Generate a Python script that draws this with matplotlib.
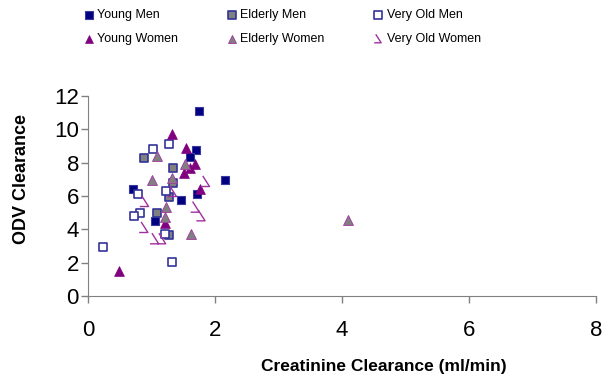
import matplotlib
matplotlib.use("Agg")
import matplotlib.pyplot as plt
from matplotlib.path import Path

plt.rcParams['font.family'] = ['Liberation Sans', 'DejaVu Sans']

# data
young_men_x = [1.75, 1.70, 1.61, 2.15, 1.71, 1.46, 0.71, 1.06]
young_men_y = [11.12, 8.76, 8.32, 6.96, 6.12, 5.76, 6.40, 4.48]

elderly_men_x = [0.88, 1.34, 1.34, 1.28, 1.09, 1.28]
elderly_men_y = [8.30, 7.68, 6.76, 5.96, 4.96, 3.66]

vold_men_x = [1.28, 1.03, 0.78, 1.23, 0.82, 0.73, 1.21, 0.23, 1.32]
vold_men_y = [9.12, 8.80, 6.14, 6.32, 5.00, 4.80, 3.72, 2.96, 2.06]

young_women_x = [1.33, 1.55, 1.69, 1.60, 1.51, 1.76, 1.22, 0.49]
young_women_y = [9.72, 8.90, 7.92, 7.66, 7.38, 6.42, 4.36, 1.50]

elderly_women_x = [1.09, 1.52, 1.00, 1.32, 1.23, 1.22, 1.62, 4.09]
elderly_women_y = [8.38, 7.94, 6.98, 7.06, 5.36, 4.76, 3.70, 4.56]

vold_women_x = [1.86, 0.90, 1.70, 1.79, 0.89, 1.06, 1.17, 1.34]
vold_women_y = [6.86, 5.66, 5.32, 4.80, 4.10, 3.42, 3.42, 6.26]

# odd little marker for the very old women
hook = Path([(-0.35, 0.6), (0.35, -0.5), (-0.55, -0.5)],
            [Path.MOVETO, Path.LINETO, Path.LINETO])

fig = plt.figure(figsize=(6.09, 3.81), dpi=100)
ax = fig.add_axes([0.1445, 0.2231, 0.8342, 0.5249])

h1 = ax.scatter(young_men_x, young_men_y, marker='s', s=40, c='#000080',
                edgecolors='#3a3aa0', linewidths=0.8, label='Young Men', zorder=3)
h2 = ax.scatter(elderly_men_x, elderly_men_y, marker='s', s=40, c='#808080',
                edgecolors='#333399', linewidths=1.2, label='Elderly Men', zorder=3)
h3 = ax.scatter(vold_men_x, vold_men_y, marker='s', s=40, c='white',
                edgecolors='#333399', linewidths=1.2, label='Very Old Men', zorder=3)
h4 = ax.scatter(young_women_x, young_women_y, marker='^', s=50, c='#800080',
                edgecolors='#800080', linewidths=0.5, label='Young Women', zorder=3)
h5 = ax.scatter(elderly_women_x, elderly_women_y, marker='^', s=50, c='#808080',
                edgecolors='#a040a0', linewidths=0.7, label='Elderly Women', zorder=3)
h6 = ax.scatter(vold_women_x, vold_women_y, marker=hook, s=70, facecolors='none',
                edgecolors='#a030a0', linewidths=1.0, label='Very Old Women', zorder=3)

ax.set_xlim(0, 8)
ax.set_ylim(0, 12)
ax.set_xticks([0, 2, 4, 6, 8])
ax.set_yticks([0, 2, 4, 6, 8, 10, 12])
ax.tick_params(labelsize=16, color='#808080', length=5, width=1)
ax.tick_params(axis='x', pad=12)
ax.tick_params(axis='y', pad=1.5)
for s in ['top', 'right']:
    ax.spines[s].set_visible(False)
for s in ['left', 'bottom']:
    ax.spines[s].set_color('#808080')

ax.set_xlabel('Creatinine Clearance (ml/min)', fontsize=12.5, fontweight='bold')
ax.xaxis.set_label_coords(0.583, -0.315)
ax.set_ylabel('ODV Clearance', fontsize=13, fontweight='bold')
ax.yaxis.set_label_coords(-0.114, 0.585)

# legend goes row by row, matplotlib fills columns first
hs = [h1, h4, h2, h5, h3, h6]
fig.legend(handles=hs, labels=[h.get_label() for h in hs], ncol=3,
           loc='upper left', bbox_to_anchor=(0.12, 1.005), frameon=False,
           fontsize=9, handlelength=0.8, handletextpad=0.25,
           columnspacing=3.9, labelspacing=0.95, scatterpoints=1,
           markerscale=0.8)

fig.savefig('out.png', dpi=100)
